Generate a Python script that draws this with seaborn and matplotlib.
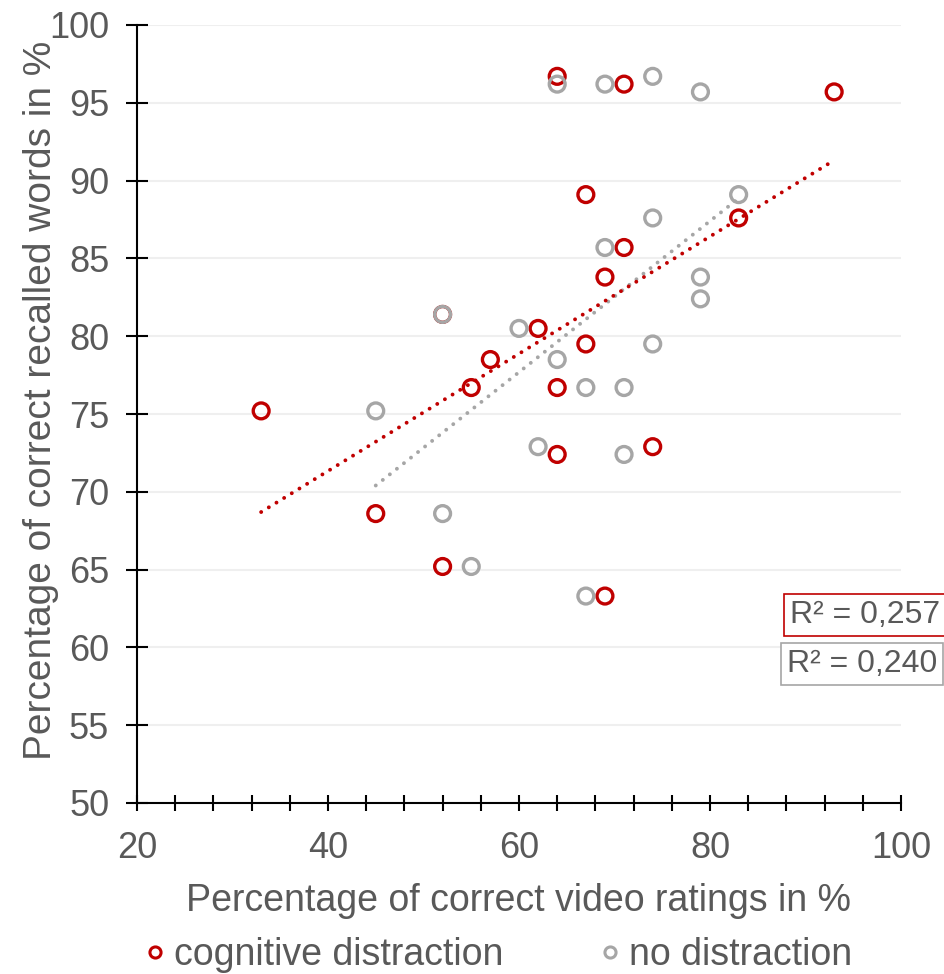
import matplotlib
matplotlib.use("Agg")
import matplotlib.pyplot as plt
import seaborn as sns
import numpy as np
import pandas as pd
from matplotlib.lines import Line2D
from matplotlib.ticker import MultipleLocator

# data
cog_x = [33, 45, 52, 55, 57, 62, 64, 64, 64, 67, 67, 69, 69, 71, 71, 74, 83, 93, 52]
cog_y = [75.2, 68.6, 65.2, 76.7, 78.5, 80.5, 96.7, 76.7, 72.4, 89.1, 79.5, 83.8, 63.3,
         96.2, 85.7, 72.9, 87.6, 95.7, 81.4]
nod_x = [45, 52, 52, 55, 60, 62, 64, 64, 67, 67, 69, 69, 71, 71, 74, 74, 74, 79, 79, 79, 83]
nod_y = [75.2, 81.4, 68.6, 65.2, 80.5, 72.9, 96.2, 78.5, 76.7, 63.3, 96.2, 85.7, 76.7,
         72.4, 96.7, 87.6, 79.5, 95.7, 83.8, 82.4, 89.1]
series = ["cognitive distraction", "no distraction"]
r2_labels = ["R² = 0,257", "R² = 0,240"]

RED = "#c00000"
GRAY = "#a6a6a6"
TXT = "#595959"

sns.set_style("white")
plt.rcParams["font.family"] = ["Liberation Sans", "DejaVu Sans"]

fig = plt.figure(figsize=(9.45, 9.74), dpi=100)
ax = fig.add_axes([137/945, 1-803/974, (901-137)/945, (803-25)/974])

df_c = pd.DataFrame({"x": cog_x, "y": cog_y})
df_n = pd.DataFrame({"x": nod_x, "y": nod_y})

sns.scatterplot(data=df_c, x="x", y="y", ax=ax, s=130, facecolors="none",
                edgecolor=RED, linewidth=2.4, zorder=3)
sns.scatterplot(data=df_n, x="x", y="y", ax=ax, s=130, facecolors="none",
                edgecolor=GRAY, linewidth=2.4, zorder=4)
dot = (0, (0.01, 2.3))
sns.regplot(data=df_n, x="x", y="y", ax=ax, scatter=False, ci=None,
            line_kws=dict(color=GRAY, lw=2.8, ls=dot, dash_capstyle="round", zorder=2))
sns.regplot(data=df_c, x="x", y="y", ax=ax, scatter=False, ci=None,
            line_kws=dict(color=RED, lw=2.8, ls=dot, dash_capstyle="round", zorder=2))

ax.set_xlim(20, 100)
ax.set_ylim(50, 100)
ax.xaxis.set_major_locator(MultipleLocator(20))
ax.xaxis.set_minor_locator(MultipleLocator(4))
ax.yaxis.set_major_locator(MultipleLocator(5))
ax.yaxis.grid(True, color="#efefef", lw=1.5)
ax.set_axisbelow(True)
for s in ["top", "right"]:
    ax.spines[s].set_visible(False)
for s in ["left", "bottom"]:
    ax.spines[s].set_color("black")
    ax.spines[s].set_linewidth(1.5)
ax.tick_params(axis="x", which="both", bottom=True, direction="inout", length=11, width=1.5,
               colors="black", labelcolor=TXT, labelsize=26, pad=15)
ax.tick_params(axis="y", which="major", left=True, direction="inout", length=16, width=1.5,
               colors="black", labelcolor=TXT, labelsize=26, pad=12)

ax.set_xlabel("Percentage of correct video ratings in %", fontsize=27, color=TXT, labelpad=12)
ax.set_ylabel("Percentage of correct recalled words in %", fontsize=28, color=TXT)
ax.yaxis.label.set_verticalalignment("center")
ax.yaxis.set_label_coords(-0.125, 0.518)

fig.text(790/945, 1-615/974, r2_labels[0], fontsize=23, color=TXT, va="center", ha="left",
         bbox=dict(boxstyle="square,pad=0.18", fc="white", ec=RED, lw=1.2))
fig.text(787/945, 1-664/974, r2_labels[1], fontsize=23, color=TXT, va="center", ha="left",
         bbox=dict(boxstyle="square,pad=0.18", fc="white", ec=GRAY, lw=1.2))

handles = [Line2D([], [], ls="none", marker="o", ms=8, mfc="none", mec=RED, mew=2.2),
           Line2D([], [], ls="none", marker="o", ms=8, mfc="none", mec=GRAY, mew=2.2)]
leg = fig.legend(handles, series, loc="center", bbox_to_anchor=(0.525, 1-955/974), ncol=2,
                 frameon=False, fontsize=27, handletextpad=0.1, columnspacing=2.45,
                 handlelength=0.8)
for t in leg.get_texts():
    t.set_color(TXT)

fig.savefig("out.png", dpi=100)
